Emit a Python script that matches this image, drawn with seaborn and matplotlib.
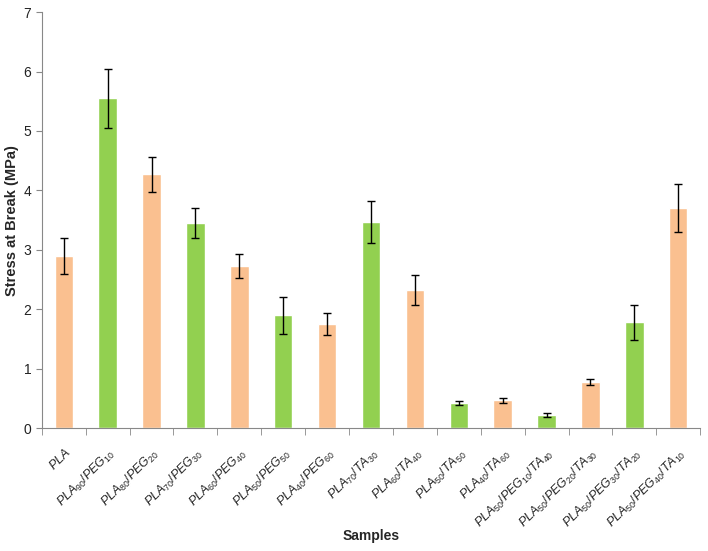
import numpy as np
import pandas as pd
import matplotlib
matplotlib.use("Agg")
import matplotlib.pyplot as plt
import seaborn as sns

# Data
samples = ["PLA", "PLA90/PEG10", "PLA80/PEG20", "PLA70/PEG30", "PLA60/PEG40",
           "PLA50/PEG50", "PLA40/PEG60", "PLA70/TA30", "PLA60/TA40", "PLA50/TA50",
           "PLA40/TA60", "PLA50/PEG10/TA40", "PLA50/PEG20/TA30", "PLA50/PEG30/TA20",
           "PLA50/PEG40/TA10"]
tick_labels = [r"$\mathit{PLA}$",
               r"$\mathit{PLA}_{\mathit{90}}\mathit{/PEG}_{\mathit{10}}$",
               r"$\mathit{PLA}_{\mathit{80}}\mathit{/PEG}_{\mathit{20}}$",
               r"$\mathit{PLA}_{\mathit{70}}\mathit{/PEG}_{\mathit{30}}$",
               r"$\mathit{PLA}_{\mathit{60}}\mathit{/PEG}_{\mathit{40}}$",
               r"$\mathit{PLA}_{\mathit{50}}\mathit{/PEG}_{\mathit{50}}$",
               r"$\mathit{PLA}_{\mathit{40}}\mathit{/PEG}_{\mathit{60}}$",
               r"$\mathit{PLA}_{\mathit{70}}\mathit{/TA}_{\mathit{30}}$",
               r"$\mathit{PLA}_{\mathit{60}}\mathit{/TA}_{\mathit{40}}$",
               r"$\mathit{PLA}_{\mathit{50}}\mathit{/TA}_{\mathit{50}}$",
               r"$\mathit{PLA}_{\mathit{40}}\mathit{/TA}_{\mathit{60}}$",
               r"$\mathit{PLA}_{\mathit{50}}\mathit{/PEG}_{\mathit{10}}\mathit{/TA}_{\mathit{40}}$",
               r"$\mathit{PLA}_{\mathit{50}}\mathit{/PEG}_{\mathit{20}}\mathit{/TA}_{\mathit{30}}$",
               r"$\mathit{PLA}_{\mathit{50}}\mathit{/PEG}_{\mathit{30}}\mathit{/TA}_{\mathit{20}}$",
               r"$\mathit{PLA}_{\mathit{50}}\mathit{/PEG}_{\mathit{40}}\mathit{/TA}_{\mathit{10}}$"]
stress = [2.9, 5.55, 4.27, 3.45, 2.73, 1.9, 1.75, 3.47, 2.33, 0.42, 0.47, 0.22, 0.78, 1.78, 3.7]
err = [0.3, 0.5, 0.29, 0.25, 0.2, 0.31, 0.19, 0.35, 0.25, 0.03, 0.04, 0.03, 0.05, 0.3, 0.4]
bar_colors = ["#FAC090", "#92D050"] * 7 + ["#FAC090"]

df = pd.DataFrame({"Sample": samples, "Stress": stress, "Err": err})

sns.set_style("white")
plt.rcParams["font.family"] = ["Liberation Sans", "DejaVu Sans"]
plt.rcParams["mathtext.fontset"] = "custom"
plt.rcParams["mathtext.rm"] = "Liberation Sans"
plt.rcParams["mathtext.it"] = "Liberation Sans:italic"

fig = plt.figure(figsize=(7.08, 5.51), dpi=100)
ax = fig.add_axes([0.059, 0.223, 0.930, 0.755])

sns.barplot(data=df, x="Sample", y="Stress", hue="Sample", palette=bar_colors,
            legend=False, width=0.42, ax=ax, saturation=1)
ax.errorbar(np.arange(len(samples)), df["Stress"], yerr=df["Err"], fmt="none",
            ecolor="black", elinewidth=1, capsize=3, capthick=1)

ax.set_xlim(-0.5, len(samples) - 0.5)
ax.set_ylim(0, 7)
ax.set_yticks(range(0, 8))
ax.tick_params(axis="y", length=4, color="#888888", labelsize=10, labelcolor="#222222",
               direction="out", left=True)
ax.set_xticks(range(len(samples)))
ax.set_xticklabels(tick_labels, rotation=45, ha="right", rotation_mode="anchor", fontsize=9)
ax.tick_params(axis="x", length=0, pad=13)
ax.set_xticks(np.arange(-0.5, len(samples)), minor=True)
ax.tick_params(axis="x", which="minor", length=5, color="#888888", direction="out", bottom=True)

for s in ["top", "right"]:
    ax.spines[s].set_visible(False)
for s in ["left", "bottom"]:
    ax.spines[s].set_color("#888888")

ax.set_ylabel("Stress at Break (MPa)", fontsize=10.5, fontweight="bold")
ax.yaxis.set_label_coords(-0.034, 0.5)
ax.set_xlabel("")
fig.text(0.524, 1 - 536 / 551, "Samples", fontsize=10, fontweight="bold",
         ha="center", va="center")

fig.savefig("out.png", dpi=100)
